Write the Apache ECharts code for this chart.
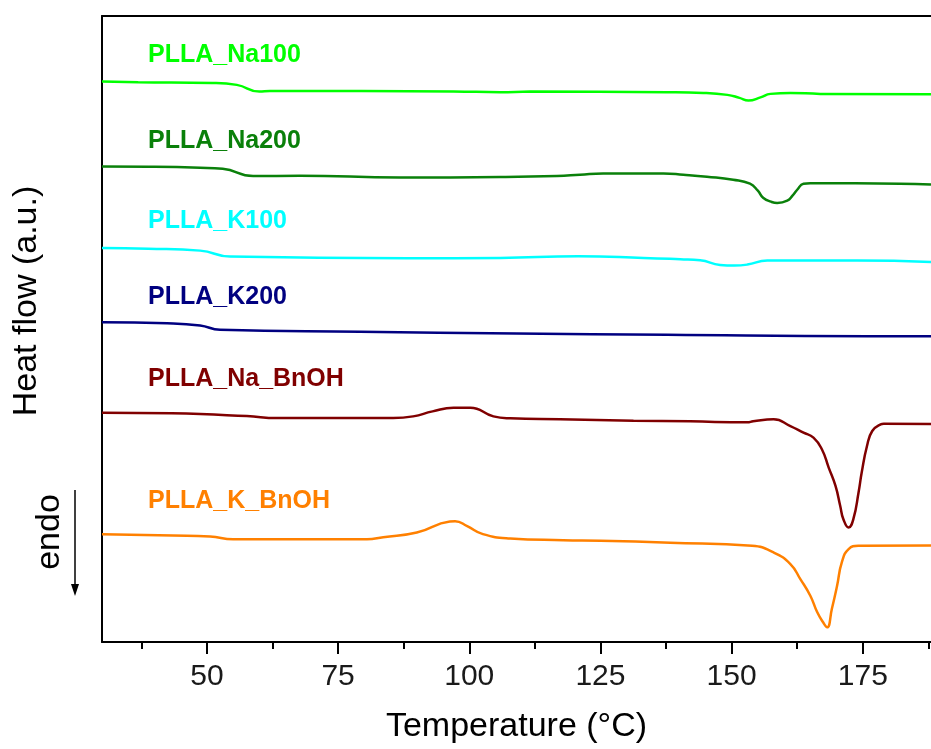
<!DOCTYPE html>
<html>
<head>
<meta charset="utf-8">
<script src="https://cdn.jsdelivr.net/npm/echarts@6/dist/echarts.min.js"></script>
<style>
  html, body { margin: 0; padding: 0; background: #fff; }
  #chart { width: 931px; height: 749px; }
</style>
</head>
<body>
<div id="chart"></div>
<script>
// sample names and colours
var names = ['PLLA_Na100', 'PLLA_Na200', 'PLLA_K100', 'PLLA_K200', 'PLLA_Na_BnOH', 'PLLA_K_BnOH'];
var colors = ['#00ff00', '#0a800a', '#00ffff', '#000080', '#800000', '#ff8000'];

// temperature (°C) / heat flow (a.u., curves already shifted)
var tNa100 = [30, 36.9, 51, 55.7, 60, 62, 97, 105.9, 111.6, 137.7, 144.6, 149.2, 151.5, 153.2, 155.5, 157.4, 161.2, 166.9, 188];
var hNa100 = [56.13, 56.07, 56.0, 55.8, 55.13, 55.2, 55.15, 55.07, 55.13, 55.07, 55.0, 54.8, 54.5, 54.23, 54.55, 54.9, 55.0, 54.9, 54.87];

var tNa200 = [30, 38.8, 48.7, 53, 58.8, 67.7, 86.8, 105.9, 116.7, 121.1, 125.5, 137, 140.8, 145.3, 150.3, 153.5, 155, 156, 157.5, 158.7, 160.6, 161.6, 162.5, 163.7, 165, 182.1, 188];
var hNa200 = [47.63, 47.6, 47.5, 47.4, 46.67, 46.7, 46.53, 46.57, 46.67, 46.8, 46.93, 46.93, 46.8, 46.6, 46.3, 45.9, 45.2, 44.5, 44.1, 43.97, 44.2, 44.7, 45.3, 45.9, 45.95, 45.9, 45.83];

var tK100 = [30, 38.8, 48.7, 54.4, 88.2, 105.9, 120.8, 133.2, 140.2, 144, 147.8, 150.5, 153, 156.8, 173.9, 188];
var hK100 = [39.47, 39.4, 39.2, 38.6, 38.43, 38.47, 38.63, 38.47, 38.33, 38.23, 37.77, 37.7, 37.8, 38.2, 38.2, 38.07];

var tK200 = [30, 42.4, 48.7, 52.5, 79.2, 109, 137.7, 175.9, 188];
var hK200 = [32.03, 31.93, 31.7, 31.27, 31.07, 30.9, 30.77, 30.63, 30.63];

var tNaBnOH = [30, 43.3, 57.6, 63.4, 85.5, 89.3, 93, 97, 100.2, 104.6, 107.8, 117.3, 131.3, 142.1, 153, 154.1, 158, 161.2, 163.7, 165.6, 167.2, 168.5, 169.8, 170.7, 171.3, 172.3, 173.2, 174.2, 174.8, 175.8, 176.8, 178.4, 179, 188];
var hNaBnOH = [22.97, 22.9, 22.63, 22.43, 22.43, 22.6, 23.1, 23.47, 23.47, 22.6, 22.4, 22.3, 22.17, 22.1, 22.0, 22.1, 22.3, 21.63, 20.97, 20.47, 19.3, 17.47, 15.63, 13.63, 12.3, 11.47, 12.3, 15.0, 17.0, 19.63, 21.13, 21.8, 21.87, 21.83];

var tKBnOH = [30, 43.5, 50.6, 55, 80.5, 83.6, 90, 96.3, 97.3, 99.6, 102.6, 107.8, 117.9, 125, 138.3, 153.9, 158, 161.2, 163.1, 165, 166.3, 167.4, 168.2, 169.1, 170.1, 171, 172.3, 174.2, 188];
var hKBnOH = [10.8, 10.67, 10.57, 10.3, 10.3, 10.5, 10.97, 12.07, 12.1, 11.6, 10.8, 10.37, 10.2, 10.15, 9.95, 9.63, 8.97, 7.8, 6.3, 4.63, 3.0, 2.0, 1.47, 3.3, 5.63, 7.97, 9.3, 9.63, 9.67];

// axis ticks
var majorTicks = [50, 75, 100, 125, 150, 175];
var minorTicks = [37.5, 62.5, 87.5, 112.5, 137.5, 162.5, 187.5];

var temps = [tNa100, tNa200, tK100, tK200, tNaBnOH, tKBnOH];
var flows = [hNa100, hNa200, hK100, hK200, hNaBnOH, hKBnOH];
var labelY = [54, 140, 220, 296, 378, 500];

var font = "'Liberation Sans', Arial, sans-serif";

function pairs(xs, ys) {
    var out = [];
    for (var i = 0; i < xs.length; i++) {
        out.push([xs[i], ys[i]]);
    }
    return out;
}

var series = [];
var graphics = [];
for (var i = 0; i < names.length; i++) {
    series.push({
        name: names[i],
        type: 'line',
        data: pairs(temps[i], flows[i]),
        showSymbol: false,
        smooth: 0.5,
        lineStyle: { color: colors[i], width: 2.5 },
        itemStyle: { color: colors[i] }
    });
    graphics.push({
        type: 'text',
        left: 148,
        top: labelY[i] - 11,
        style: {
            text: names[i],
            fill: colors[i],
            font: 'bold 25px ' + font
        }
    });
}

// y axis title and endo arrow
graphics.push({
    type: 'text',
    x: 27, y: 301,
    rotation: Math.PI / 2,
    style: {
        text: 'Heat flow (a.u.)',
        fill: '#000',
        font: '34px ' + font,
        align: 'center',
        verticalAlign: 'middle'
    }
});
graphics.push({
    type: 'text',
    x: 50, y: 532,
    rotation: Math.PI / 2,
    style: {
        text: 'endo',
        fill: '#000',
        font: '34px ' + font,
        align: 'center',
        verticalAlign: 'middle'
    }
});
graphics.push({
    type: 'line',
    shape: { x1: 75, y1: 490, x2: 75, y2: 588 },
    style: { stroke: '#000', lineWidth: 1.5 }
});
graphics.push({
    type: 'polygon',
    shape: { points: [[71, 584], [79, 584], [75, 596]] },
    style: { fill: '#000' }
});

var chart = echarts.init(document.getElementById('chart'));
var option = {
    animation: false,
    backgroundColor: '#fff',
    grid: { left: 102, right: 0, top: 16, bottom: 106 },
    xAxis: [{
        type: 'value',
        min: 30,
        max: 188,
        position: 'bottom',
        name: 'Temperature (°C)',
        nameLocation: 'middle',
        nameGap: 68,
        nameTextStyle: { fontFamily: font, fontSize: 34, color: '#000' },
        axisLine: { show: true, onZero: false, lineStyle: { color: '#000', width: 2 } },
        axisTick: { show: true, inside: false, length: 12, customValues: majorTicks, lineStyle: { color: '#000', width: 2 } },
        axisLabel: { show: true, customValues: majorTicks, margin: 20, fontFamily: font, fontSize: 30, color: '#1a1a1a' },
        splitLine: { show: false }
    }, {
        type: 'value',
        min: 30,
        max: 188,
        position: 'bottom',
        axisLine: { show: false },
        axisTick: { show: true, inside: false, length: 7, customValues: minorTicks, lineStyle: { color: '#000', width: 2 } },
        axisLabel: { show: false },
        splitLine: { show: false }
    }, {
        type: 'value',
        min: 30,
        max: 188,
        position: 'top',
        axisLine: { show: true, onZero: false, lineStyle: { color: '#000', width: 2 } },
        axisTick: { show: false },
        axisLabel: { show: false },
        splitLine: { show: false }
    }],
    yAxis: {
        type: 'value',
        min: 0,
        max: 62.7,
        axisLine: { show: true, onZero: false, lineStyle: { color: '#000', width: 2 } },
        axisTick: { show: false },
        axisLabel: { show: false },
        splitLine: { show: false }
    },
    series: series,
    graphic: graphics
};
chart.setOption(option);
</script>
</body>
</html>
